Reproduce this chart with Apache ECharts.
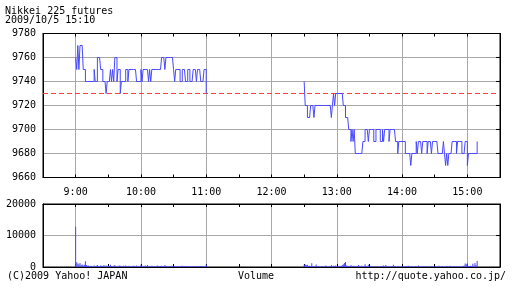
<!DOCTYPE html>
<html><head><meta charset="utf-8">
<script src="https://cdn.jsdelivr.net/npm/echarts@6/dist/echarts.min.js"></script>
<style>html,body{margin:0;padding:0;background:#fff}#c{width:512px;height:288px}</style>
</head><body><div id="c"></div>
<script>
const titleText = 'Nikkei 225 futures';
const dateText = '2009/10/5 15:10';
const footerLeft = '(C)2009 Yahoo! JAPAN';
const footerMid = 'Volume';
const footerRight = 'http://quote.yahoo.co.jp/';

const timeLabels = ['9:00','10:00','11:00','12:00','13:00','14:00','15:00'];
const priceTicks = [9660, 9680, 9700, 9720, 9740, 9760, 9780];
const volumeTicks = [0, 10000, 20000];
const prevClose = 9730;

// minute bars 9:00 - 11:00
const morningPrice = [
 9760,9750,9770,9750,9770,9770,9770,9750,9750,9740,
 9740,9740,9740,9740,9740,9740,9740,9750,9740,9740,
 9760,9760,9760,9750,9750,9740,9740,9740,9730,9740,
 9740,9740,9750,9740,9750,9740,9760,9760,9740,9750,
 9750,9730,9740,9740,9740,9740,9750,9750,9740,9750,
 9750,9750,9750,9750,9750,9750,9740,9740,9740,9740,
 9750,9740,9750,9750,9750,9750,9750,9740,9750,9740,
 9750,9750,9750,9750,9750,9750,9750,9750,9750,9760,
 9760,9760,9750,9760,9760,9760,9760,9760,9760,9760,
 9750,9740,9750,9750,9750,9750,9740,9740,9750,9750,
 9750,9740,9740,9750,9750,9740,9740,9740,9750,9750,
 9750,9740,9750,9750,9750,9740,9740,9740,9750,9750,
 9730
];
// minute bars 12:30 - 15:09
const afternoonPrice = [
 9740,9720,9720,9710,9710,9710,9720,9720,9720,9710,
 9720,9720,9720,9720,9720,9720,9720,9720,9720,9720,
 9720,9720,9720,9720,9720,9710,9720,9730,9720,9730,
 9730,9730,9730,9730,9730,9730,9720,9720,9710,9710,
 9710,9700,9700,9690,9700,9690,9700,9680,9680,9680,
 9680,9680,9680,9680,9690,9690,9700,9700,9700,9690,
 9700,9700,9700,9700,9690,9690,9700,9700,9700,9700,
 9690,9690,9700,9690,9700,9700,9700,9700,9690,9700,
 9700,9700,9700,9700,9690,9690,9680,9690,9690,9690,
 9690,9690,9690,9680,9680,9680,9680,9680,9670,9680,
 9680,9680,9680,9690,9680,9690,9690,9690,9680,9690,
 9690,9690,9690,9680,9690,9690,9690,9680,9690,9690,
 9690,9690,9690,9680,9680,9680,9680,9680,9690,9680,
 9670,9680,9670,9680,9680,9680,9690,9690,9690,9690,
 9680,9690,9690,9690,9690,9680,9680,9680,9690,9690,
 9670,9680,9680,9680,9680,9680,9680,9680,9680,9690
];
const morningVolume = [
 12800,1500,1100,900,1300,600,800,500,700,1800,
 600,400,500,300,400,300,200,500,300,400,
 600,300,200,500,400,300,600,200,500,300,
 400,300,700,300,200,400,600,300,200,300,
 500,400,300,200,400,300,500,200,300,400,
 200,300,200,400,300,200,500,300,200,300,
 700,400,300,200,500,300,600,200,300,200,
 400,300,200,300,200,500,300,200,300,400,
 200,300,600,200,300,200,300,200,400,300,
 200,300,200,200,300,200,300,200,400,200,
 300,200,300,200,200,300,200,300,200,200,
 300,200,300,200,200,300,200,300,200,300,
 800
];
const afternoonVolume = [
 700,800,600,700,300,400,200,1200,300,200,
 300,800,200,300,200,100,300,200,100,300,
 500,200,100,300,200,600,200,400,300,500,
 200,300,200,400,300,600,900,1300,1600,500,
 400,300,200,600,300,200,400,300,200,300,
 600,300,200,400,300,200,900,300,200,700,
 200,300,200,100,300,200,100,200,300,100,
 200,300,200,500,200,600,300,200,300,200,
 300,200,700,300,200,100,300,200,200,100,
 300,200,100,200,300,200,400,200,100,300,
 200,100,200,300,100,500,200,100,200,300,
 100,200,300,200,100,200,100,300,200,100,
 200,300,100,200,400,100,200,300,100,200,
 100,300,200,100,400,200,100,200,300,100,
 200,100,300,200,100,200,300,500,1100,900,
 1200,300,200,400,300,1000,400,1300,600,1900
];

const AFTERNOON_OFFSET = 210; // 12:30 in minutes from 9:00
const X_MIN = -30, X_MAX = 390; // 8:30 .. 15:30
const FONT = 'DejaVu Sans Mono';
const BLUE = '#4848ff';
const GRIDC = '#a8a8a8';
const RED = '#ff4040';

const morningData = morningPrice.map((v, i) => [i, v]);
const afternoonData = afternoonPrice.map((v, i) => [AFTERNOON_OFFSET + i, v]);
const volumeData = morningVolume.map((v, i) => [i, v])
  .concat(afternoonVolume.map((v, i) => [AFTERNOON_OFFSET + i, v]));
const prevCloseData = [[X_MIN, prevClose], [X_MAX, prevClose]];

function timeFmt(v) {
  return v % 60 === 0 ? (timeLabels[v / 60] || '') : '';
}

function xAx(gridIndex, position, labels, split) {
  return {
    type: 'value', gridIndex, position, min: X_MIN, max: X_MAX, interval: 30,
    axisLine: { show: true, onZero: false, lineStyle: { color: '#000', width: 1 } },
    axisTick: { show: true, inside: true, length: 3, lineStyle: { color: '#000' } },
    axisLabel: { show: labels, formatter: timeFmt, margin: 10, color: '#000', fontFamily: FONT, fontSize: 10 },
    splitLine: { show: split, lineStyle: { color: ['rgba(0,0,0,0)', GRIDC], width: 1 } }
  };
}
function yAx(gridIndex, position, ticks, labels, split) {
  return {
    type: 'value', gridIndex, position,
    min: ticks[0], max: ticks[ticks.length - 1], interval: ticks[1] - ticks[0],
    axisLine: { show: true, onZero: false, lineStyle: { color: '#000', width: 1 } },
    axisTick: { show: !labels, inside: true, length: 4, lineStyle: { color: '#000' } },
    axisLabel: { show: labels, margin: 7, color: '#000', fontFamily: FONT, fontSize: 10, formatter: v => String(v) },
    splitLine: { show: split, lineStyle: { color: GRIDC, width: 1 } }
  };
}

const chart = echarts.init(document.getElementById('c'), null, { renderer: 'canvas' });
chart.setOption({
  animation: false,
  backgroundColor: '#fff',
  grid: [
    { left: 43, right: 12, top: 33.5, height: 144, show: true, borderColor: '#000', borderWidth: 1, containLabel: false },
    { left: 43, right: 12, top: 204, height: 63, show: true, borderColor: '#000', borderWidth: 1, containLabel: false }
  ],
  xAxis: [
    xAx(0, 'bottom', true, true),
    xAx(0, 'top', false, false),
    xAx(1, 'bottom', false, true),
    xAx(1, 'top', false, false)
  ],
  yAxis: [
    yAx(0, 'left', priceTicks, true, true),
    yAx(0, 'right', priceTicks, false, false),
    yAx(1, 'left', volumeTicks, true, true),
    yAx(1, 'right', volumeTicks, false, false)
  ],
  graphic: [
    { type: 'text', left: 5, top: 6, style: { text: titleText, font: '10px "' + FONT + '"', fill: '#000' } },
    { type: 'text', left: 5, top: 15, style: { text: dateText, font: '10px "' + FONT + '"', fill: '#000' } },
    { type: 'text', left: 7, top: 271, style: { text: footerLeft, font: '10px "' + FONT + '"', fill: '#000' } },
    { type: 'text', left: 238, top: 271, style: { text: footerMid, font: '10px "' + FONT + '"', fill: '#000' } },
    { type: 'text', right: 6, top: 271, style: { text: footerRight, font: '10px "' + FONT + '"', fill: '#000' } }
  ],
  series: [
    {
      name: 'prevClose', type: 'line', xAxisIndex: 0, yAxisIndex: 0, symbol: 'none',
      color: RED, lineStyle: { color: RED, type: [5, 3], width: 1 }, data: prevCloseData, z: 2
    },
    {
      type: 'line', xAxisIndex: 0, yAxisIndex: 0, step: 'end', symbol: 'none',
      color: BLUE,
      lineStyle: { color: BLUE, width: 1 }, data: morningData, z: 3
    },
    {
      type: 'line', xAxisIndex: 0, yAxisIndex: 0, step: 'end', symbol: 'none',
      color: BLUE,
      lineStyle: { color: BLUE, width: 1 }, data: afternoonData, z: 3
    },
    {
      type: 'bar', xAxisIndex: 2, yAxisIndex: 2, barWidth: 1,
      itemStyle: { color: BLUE }, data: volumeData
    }
  ]
});
</script>
</body></html>
